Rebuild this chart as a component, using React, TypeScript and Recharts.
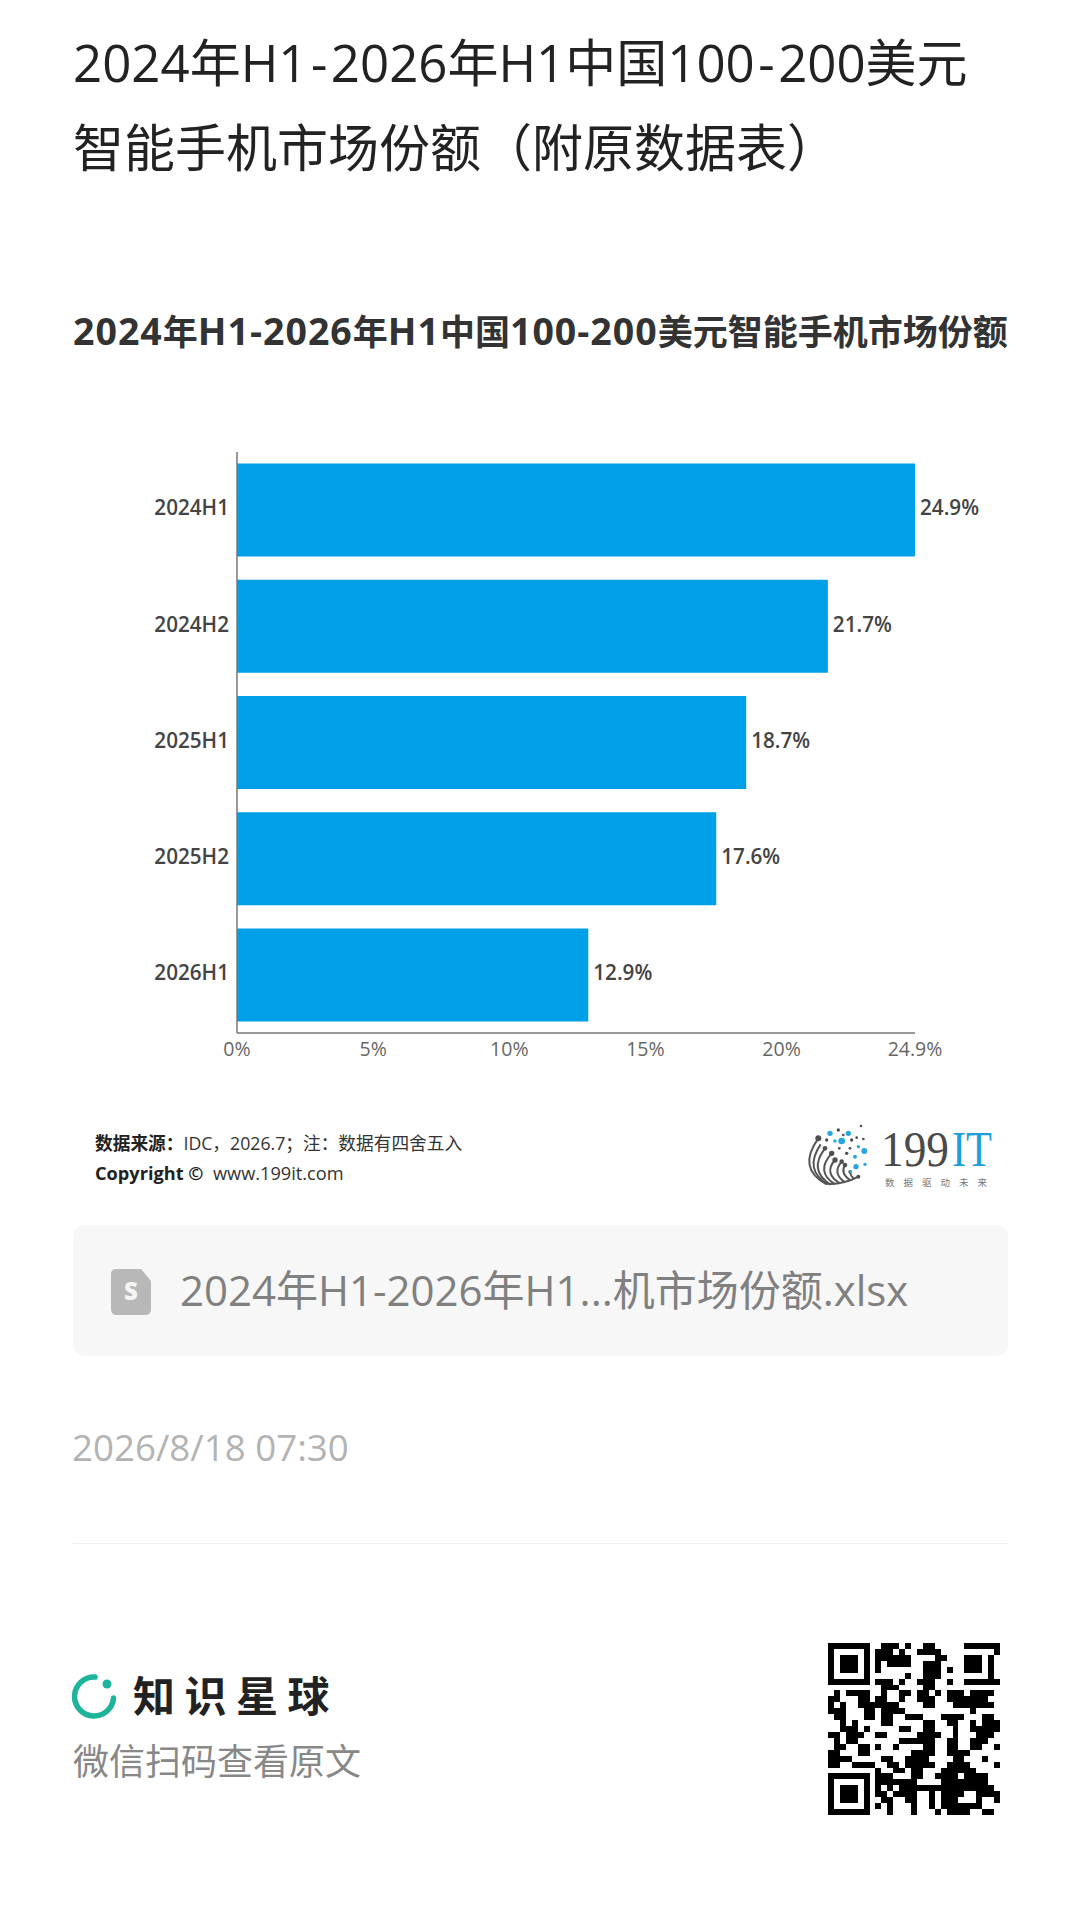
import { BarChart, Bar, XAxis, YAxis, LabelList } from "recharts";

const periods = ["2024H1", "2024H2", "2025H1", "2025H2", "2026H1"];
const shares = [24.9, 21.7, 18.7, 17.6, 12.9];
const xTicks = [0, 5, 10, 15, 20, 24.9];

const chartData = periods.map((period, i) => ({ period, share: shares[i] }));

const FONT = '"Open Sans", "Noto Sans CJK SC", sans-serif';
const BLUE = "#00A0E9";

// QR modules
const qrRows = [
  "11111110011101001100000" + "111111",
  "10000010111010011110000" + "000001",
  "10111010111111000011000" + "111010",
  "10111010101111001110000" + "111010",
  "10111010100000001110100" + "111010",
  "10000010000001001110000" + "000010",
  "11111110111010011100100" + "111111",
  "00000000011100001100000" + "000000",
  "01011110010011011010111011110",
  "11000110" + "11001" + "00111" + "00" + "1111111" + "00",
  "10100" + "111" + "1111" + "0000" + "11" + "000" + "1111111" + "0",
  "111" + "000" + "11" + "0" + "1111" + "00000000000" + "1" + "0000",
  "0" + "11" + "000" + "11" + "0" + "11" + "00" + "111" + "000" + "1111" + "000" + "11" + "0",
  "00" + "1" + "0" + "1" + "0000" + "11" + "00000" + "11" + "00" + "11" + "00" + "1" + "0" + "111",
  "00" + "111" + "0" + "1" + "00000" + "11" + "00" + "11" + "000" + "1" + "00" + "11111",
  "11" + "0" + "111" + "00" + "11" + "00000" + "1111" + "00" + "1" + "000" + "111" + "0",
  "0" + "1" + "0" + "11" + "0000000" + "111111" + "00" + "11" + "00" + "111" + "00",
  "0" + "11" + "00" + "11" + "0" + "1" + "00" + "1" + "0000" + "11" + "00" + "11" + "00" + "11" + "00" + "1",
  "11" + "000" + "11" + "0000000" + "1111" + "00" + "1111" + "00000",
  "1111" + "00000" + "11" + "00" + "1111" + "0000" + "11" + "000" + "1" + "00",
  "11" + "00" + "1111" + "00" + "11" + "0" + "11111" + "00" + "1111" + "0000" + "1",
  "00000000" + "1" + "00" + "11" + "0" + "11" + "000" + "111111" + "0000",
  "1111111" + "0" + "111" + "000" + "11" + "00" + "1111" + "0" + "1111" + "00",
  "1000001" + "0" + "1111111" + "0000" + "11111111" + "00",
  "1011101" + "0" + "1010" + "1111" + "111111111111" + "0",
  "1011101" + "0" + "11" + "0" + "1111" + "00" + "1" + "0" + "1111" + "00" + "1111",
  "1011101" + "0" + "0" + "11" + "00" + "11" + "00" + "1" + "0" + "111" + "000" + "1" + "00" + "1",
  "1000001" + "0" + "1" + "0" + "1" + "000" + "1" + "00" + "1" + "0" + "1111111" + "000",
  "1111111" + "0" + "00" + "1" + "000" + "1" + "000" + "1" + "0" + "1111" + "00" + "11" + "0",
];

const Txt = ({ x, cy, size, color, weight = 400, spacing = 0, children }: any) => (
  <div
    style={{
      position: "absolute",
      left: x,
      top: cy - size,
      height: size * 2,
      lineHeight: `${size * 2}px`,
      fontSize: size,
      color,
      fontWeight: weight,
      letterSpacing: spacing,
      fontFamily: FONT,
      whiteSpace: "nowrap",
    }}
  >
    {children}
  </div>
);

const WideDash = ({ gap }: { gap: number }) => <span style={{ margin: `0 ${gap}px` }}>-</span>;

// chart title: latin runs are set a little larger than the CJK
const MixedTitle = ({ text, latin, spacing }: { text: string; latin: number; spacing: number }) => (
  <>
    {text.split(/([0-9A-Za-z-]+)/).map((part, i) =>
      i % 2 ? (
        <span key={i} style={{ fontSize: latin, letterSpacing: spacing }}>
          {part}
        </span>
      ) : (
        part
      )
    )}
  </>
);

const QrCode = () => (
  <svg
    width={172}
    height={172}
    viewBox="0 0 29 29"
    shapeRendering="crispEdges"
    style={{ position: "absolute", left: 828, top: 1643 }}
  >
    {qrRows.map((row, r) =>
      row.split("").map((cell, c) =>
        cell === "1" ? <rect key={`${r}-${c}`} x={c} y={r} width={1} height={1} fill="#000" /> : null
      )
    )}
  </svg>
);

const LogoMark = () => {
  const arcs = [
    "M80 208 Q-10 160 55 70",
    "M84 208 Q10 165 62 88",
    "M90 208 Q25 165 75 100",
    "M105 208 Q45 170 95 115",
    "M120 205 Q70 175 105 135",
    "M135 202 Q95 175 125 140",
    "M150 195 Q120 175 135 150",
    "M160 190 Q150 180 150 170",
    "M85 208 Q140 205 175 185",
  ];
  const grayDots = [
    [55, 70, 9], [75, 100, 7], [95, 115, 8], [105, 135, 8], [125, 140, 7], [135, 150, 7], [150, 170, 5], [175, 185, 6],
    [115, 45, 5], [183, 33, 4], [130, 60, 4], [155, 75, 5], [170, 68, 4], [190, 72, 4], [80, 75, 5], [150, 100, 4],
    [118, 100, 4], [140, 115, 5],
  ];
  const blueDots = [
    [90, 55, 8], [145, 55, 8], [125, 78, 10], [105, 78, 5], [193, 108, 9], [175, 95, 5], [165, 125, 6], [168, 155, 8],
    [195, 148, 5], [152, 170, 4],
  ];
  return (
    <svg width={200} height={80} style={{ position: "absolute", left: 800, top: 1115 }}>
      <g transform="scale(0.3333)">
        {arcs.map((d) => (
          <path key={d} d={d} fill="none" stroke="#555" strokeWidth={6} />
        ))}
        {grayDots.map(([x, y, r]) => (
          <circle key={`${x}-${y}`} cx={x} cy={y} r={r} fill="#4f4f4f" />
        ))}
        {blueDots.map(([x, y, r]) => (
          <circle key={`${x}-${y}`} cx={x} cy={y} r={r} fill="#2AA5DE" />
        ))}
      </g>
      <text x={81} y={51} fontFamily="Liberation Serif" fontSize={50} fill="#4a4a4a" textLength={68} lengthAdjust="spacingAndGlyphs">
        199
      </text>
      <text x={152} y={51} fontFamily="Liberation Serif" fontSize={50} fill="#1E9FDC" textLength={40} lengthAdjust="spacingAndGlyphs">
        IT
      </text>
      <text x={85} y={71} fontFamily="Noto Sans CJK SC" fontSize={9.5} fill="#777" textLength={102}>
        数据驱动未来
      </text>
    </svg>
  );
};

export default function App() {
  return (
    <div style={{ position: "absolute", left: 0, top: 0, width: 1080, height: 1913, background: "#fff", overflow: "hidden" }}>
      <Txt x={73} cy={62} size={51} color="#222">
        2024年H1<WideDash gap={3.5} />2026年H1中国100<WideDash gap={3.5} />200美元
      </Txt>
      <Txt x={73} cy={147} size={51} color="#222">智能手机市场份额（附原数据表）</Txt>
      <Txt x={73} cy={331} size={35} color="#333" weight={700}>
        <MixedTitle text="2024年H1-2026年H1中国100-200美元智能手机市场份额" latin={37.5} spacing={1} />
      </Txt>

      <div style={{ position: "absolute", left: 0, top: 400 }}>
        <BarChart
          width={1080}
          height={720}
          layout="vertical"
          data={chartData}
          margin={{ top: 52, right: 165, bottom: 47, left: 137 }}
          barCategoryGap="10%"
        >
          <XAxis
            type="number"
            domain={[0, 24.9]}
            ticks={xTicks}
            interval={0}
            height={40}
            tickLine={false}
            axisLine={{ stroke: "#777", strokeWidth: 1.5 }}
            tick={{ fontSize: 19.5, fill: "#666", fontFamily: FONT, dy: 1 }}
            tickFormatter={(v) => `${v}%`}
          />
          <YAxis
            type="category"
            dataKey="period"
            width={100}
            tickLine={false}
            axisLine={{ stroke: "#777", strokeWidth: 1.5 }}
            tick={{ fontSize: 20.7, fill: "#444", fontFamily: FONT, fontWeight: 600, dy: -2 }}
          />
          <Bar dataKey="share" fill={BLUE} isAnimationActive={false}>
            <LabelList
              dataKey="share"
              position="right"
              offset={5}
              dy={-2}
              formatter={(v: any) => `${v}%`}
              style={{ fontSize: 20.7, fill: "#444", fontFamily: FONT, fontWeight: 600 }}
            />
          </Bar>
        </BarChart>
      </div>

      <Txt x={95} cy={1144} size={17.7} color="#333">
        <span style={{ fontWeight: 700, color: "#222" }}>数据来源：</span>IDC，2026.7；注：数据有四舍五入
      </Txt>
      <Txt x={95} cy={1173} size={18.2} color="#333">
        <span style={{ fontWeight: 700, color: "#222" }}>Copyright ©</span>&nbsp; www.199it.com
      </Txt>
      <LogoMark />

      <div style={{ position: "absolute", left: 73, top: 1225, width: 935, height: 131, background: "#F7F7F7", borderRadius: 12 }} />
      <svg width={40} height={46} viewBox="0 0 40 46" style={{ position: "absolute", left: 111, top: 1269 }}>
        <path d="M5 0 H30 L40 12 V40 Q40 46 34 46 H6 Q0 46 0 40 V5 Q0 0 5 0 Z" fill="#B8B8B8" />
        <text x={20} y={31} textAnchor="middle" fontFamily="Open Sans" fontWeight={800} fontSize={24} fill="#F4F4F4">S</text>
      </svg>
      <Txt x={180} cy={1290} size={42} color="#808080">2024年H1-2026年H1...机市场份额.xlsx</Txt>
      <Txt x={72} cy={1448} size={36.7} color="#B3B3B3">2026/8/18 07:30</Txt>
      <div style={{ position: "absolute", left: 73, top: 1543, width: 935, height: 1, background: "#EEEEEE" }} />

      <svg width={46} height={46} viewBox="0 0 46 46" style={{ position: "absolute", left: 71, top: 1673 }}>
        <path d="M24 4 A19.5 19.5 0 1 0 42.5 25" fill="none" stroke="#1DB49B" strokeWidth={5.5} strokeLinecap="round" />
        <circle cx={36} cy={11} r={4.5} fill="#1DB49B" />
      </svg>
      <Txt x={133} cy={1696} size={42} color="#222" weight={700} spacing={9.5}>知识星球</Txt>
      <Txt x={73} cy={1762} size={36} color="#888">微信扫码查看原文</Txt>
      <QrCode />
    </div>
  );
}
